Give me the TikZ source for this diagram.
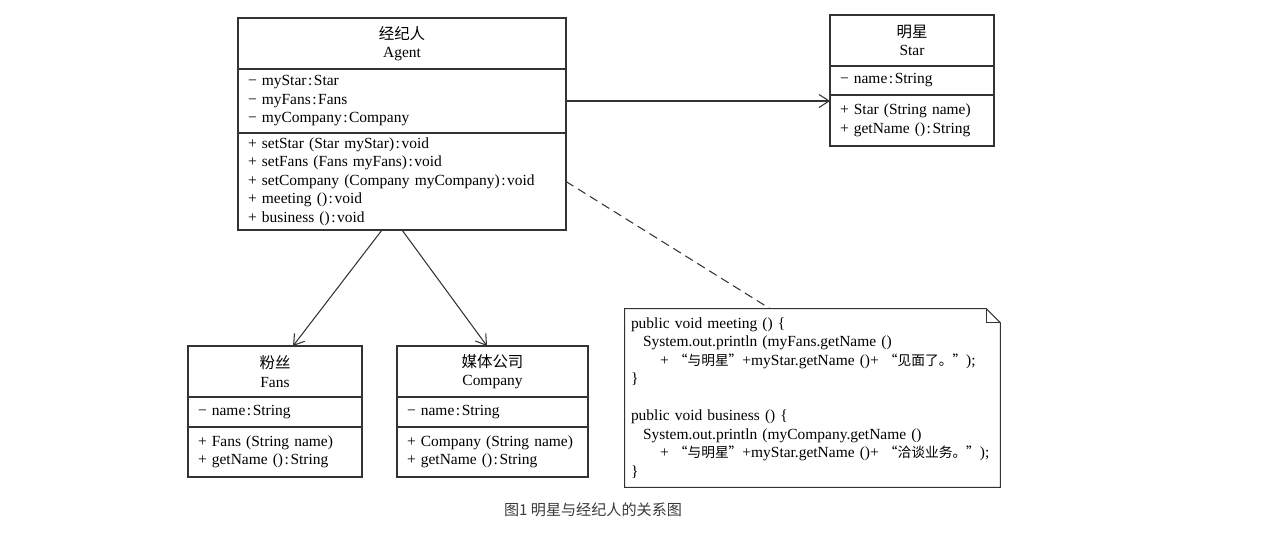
\documentclass[tikz,border=0pt]{standalone}
\usepackage{fontspec}
\setmainfont{Liberation Serif}
\newfontfamily\cjk{Noto Sans CJK SC}
\usepackage{xcolor}
\usetikzlibrary{arrows.meta, positioning}

\newcommand{\cln}{\kern0.1em:\kern0.1em}
\newcommand{\notezh}[1]{{\cjk\fontsize{7.8}{10.5}\selectfont #1}}
\definecolor{captiongray}{HTML}{3A3A3A}

\tikzset{
  umlbox/.style={draw=black!80, line width=0.6pt, inner xsep=0.2cm, inner ysep=0pt, outer sep=0pt},
  headbox/.style={umlbox, align=center, minimum height=1.02cm},
  listbox/.style={umlbox, align=left},
}

\begin{document}
\begin{tikzpicture}[>={Straight Barb[length=2mm,width=2.6mm]}, node distance=0pt,
    every node/.style={font=\fontsize{8.8}{10.5}\selectfont}]
    \useasboundingbox (0,0) rectangle (25.5,-10.78);

    % Agent
    \node (agenthead) [headbox, text width=6.16cm] at (8.04,-0.87) {{\cjk 经纪人}\\Agent};
    \node (agentattr) [listbox, text width=6.16cm, minimum height=1.28cm, below=of agenthead]
        {− myStar\cln Star\\− myFans\cln Fans\\− myCompany\cln Company};
    \node (agentops) [listbox, text width=6.16cm, minimum height=1.94cm, below=of agentattr]
        {+ setStar (Star myStar)\cln void\\+ setFans (Fans myFans)\cln void\\+ setCompany (Company myCompany)\cln void\\+ meeting ()\cln void\\+ business ()\cln void};

    % Star
    \node (starhead) [headbox, text width=2.88cm] at (18.24,-0.81) {{\cjk 明星}\\Star};
    \node (starattr) [listbox, text width=2.88cm, minimum height=0.58cm, below=of starhead] {− name\cln String};
    \node (starops) [listbox, text width=2.88cm, minimum height=1.02cm, below=of starattr]
        {+ Star (String name)\\+ getName ()\cln String};

    % Fans
    \node (fanshead) [headbox, text width=3.08cm] at (5.5,-7.43) {{\cjk 粉丝}\\Fans};
    \node (fansattr) [listbox, text width=3.08cm, minimum height=0.6cm, below=of fanshead] {− name\cln String};
    \node (fansops) [listbox, text width=3.08cm, minimum height=1.0cm, below=of fansattr]
        {+ Fans (String name)\\+ getName ()\cln String};

    % Company
    \node (comphead) [headbox, text width=3.42cm] at (9.85,-7.43) {{\cjk 媒体公司}\\Company};
    \node (compattr) [listbox, text width=3.42cm, minimum height=0.6cm, below=of comphead] {− name\cln String};
    \node (compops) [listbox, text width=3.42cm, minimum height=1.0cm, below=of compattr]
        {+ Company (String name)\\+ getName ()\cln String};

    % note
    \node (note) [minimum width=7.5cm, minimum height=3.56cm, text width=7.26cm, inner xsep=0.12cm, align=left] at (16.25,-7.96)
        {public void meeting () \{\\
         \hspace*{0.24cm}System.out.println (myFans.getName ()\\
         \hspace*{0.58cm}+ \notezh{“与明星”}+myStar.getName ()+ \notezh{“见面了。”});\\
         \}\\[10.5pt]
         public void business () \{\\
         \hspace*{0.24cm}System.out.println (myCompany.getName ()\\
         \hspace*{0.58cm}+ \notezh{“与明星”}+myStar.getName ()+ \notezh{“洽谈业务。”});\\
         \}};
    \draw[black!80, line width=0.6pt] (note.north west) -- ([xshift=-0.28cm]note.north east) -- ([yshift=-0.28cm]note.north east)
        -- (note.south east) -- (note.south west) -- cycle;
    \draw[black!80, line width=0.6pt] ([xshift=-0.28cm]note.north east) |- ([yshift=-0.28cm]note.north east);

    % connectors
    \draw[->, black!80, line width=0.6pt] (agentattr.east) -- (agentattr.east -| starattr.west);
    \draw[->, black!80, line width=0.6pt] ([xshift=-0.4cm]agentops.south) -- ([xshift=0.36cm]fanshead.north);
    \draw[->, black!80, line width=0.6pt] (agentops.south) -- ([xshift=-0.11cm]comphead.north);
    \draw[black!80, line width=0.6pt, dash pattern=on 5pt off 3pt] (agentops.east) -- ([xshift=-0.85cm]note.north);

    % caption
    \node (caption) [font=\cjk\fontsize{8.6}{10}\selectfont, text=captiongray] at (11.86,-10.2) {图1 明星与经纪人的关系图};
\end{tikzpicture}
\end{document}
